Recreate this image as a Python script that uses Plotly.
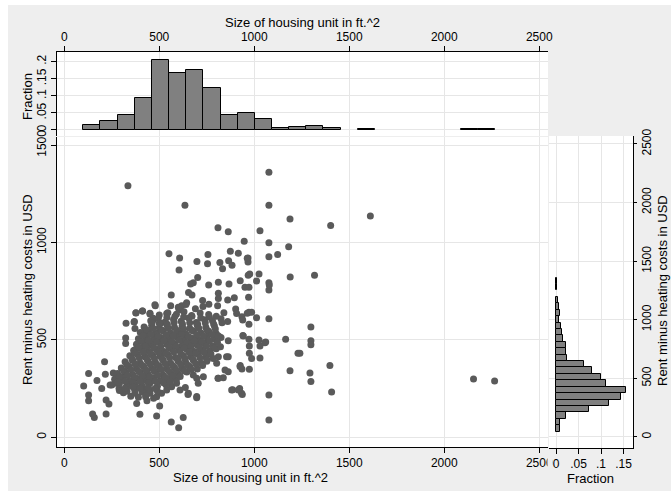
import plotly.graph_objects as go

# ---------------- data ----------------
size_sqft = [
    335, 1077, 635, 1077, 1188, 1402, 1611, 809, 863, 1030, 947, 1077, 1181, 551, 607, 756, 874, 916,
    967, 967, 1077, 1123, 963, 698, 754, 819, 865, 883, 833, 604, 976, 968, 1025, 1189, 1317, 702,
    679, 760, 811, 867, 926, 951, 972, 1012, 1077, 1077, 1079, 665, 654, 672, 563, 811, 811, 860,
    895, 970, 728, 761, 807, 479, 644, 618, 604, 539, 377, 412, 451, 467, 325, 367, 372, 507, 902,
    907, 935, 972, 986, 1012, 1077, 972, 939, 963, 323, 323, 430, 374, 409, 1298, 1298, 1298, 1165,
    1060, 1025, 1030, 1056, 972, 974, 1230, 974, 986, 1030, 940, 942, 863, 863, 811, 1188, 1293,
    1298, 1398, 1407, 1077, 1077, 974, 926, 935, 925, 863, 837, 809, 886, 923, 937, 933, 1240, 2154,
    2265,
    212, 128, 172, 216, 258, 305, 102, 128, 128, 220, 235, 149, 158, 220, 381, 398, 486, 502, 563,
    602, 626, 651, 697, 637, 435, 428, 881, 916, 846, 802, 854, 811, 653, 697,
    197, 241, 267, 288, 311, 328, 346, 372, 398, 425, 451, 486, 512, 539, 565, 591, 609, 697, 732,
    679, 705, 477, 377, 411, 451, 468, 369, 442, 486, 433, 411, 372,
    560, 600, 640, 690, 730,
    500, 545, 590, 630, 670, 715, 760, 800, 840,
    455, 495, 530, 575, 615, 655, 695, 740, 780, 825, 860,
    420, 460, 500, 540, 580, 620, 660, 700, 745, 790,
    400, 440, 480, 520, 560, 600, 640, 680, 720, 760, 800,
    390, 430, 470, 510, 550, 590, 630, 670, 710, 750, 790, 825,
    380, 420, 460, 500, 540, 580, 620, 660, 700, 740, 780,
    365, 405, 445, 485, 525, 565, 605, 645, 685, 725, 765, 800,
    345, 385, 425, 465, 505, 545, 585, 625, 665, 705, 745,
    320, 360, 400, 440, 480, 520, 560, 600, 640, 680, 720, 750,
    300, 340, 380, 420, 460, 500, 540, 580, 620, 660, 700,
    280, 320, 360, 400, 440, 480, 520, 560, 600, 645,
    265, 305, 345, 385, 425, 465, 505, 545, 590,
    250, 290, 330, 370, 410, 450, 490, 535,
    290, 330, 370, 410, 450, 490,
    350, 390, 430, 470,
    540, 582, 628, 672, 718, 764,
    462, 500, 542, 578, 622, 660, 702, 742, 786, 830,
    432, 468, 512, 548, 592, 628, 672, 708, 752, 795,
    414, 457, 493, 537, 574, 617, 653, 697, 733, 777, 812,
    406, 444, 486, 524, 566, 604, 646, 684, 726, 764, 806,
    392, 428, 472, 508, 552, 588, 632, 668, 712, 748, 792, 822,
    374, 416, 454, 496, 534, 576, 614, 656, 694, 736, 772,
    356, 394, 437, 474, 517, 554, 597, 634, 677, 714, 752, 784,
    330, 372, 410, 452, 490, 532, 570, 612, 650, 692, 728,
    312, 350, 392, 430, 472, 510, 552, 590, 632, 668,
    290, 332, 370, 412, 450, 492, 530, 572, 610,
    282, 320, 362, 400, 442, 480, 522, 558,
    320, 362, 400, 442, 478,
]
rent_usd = [
    1292, 1361, 1191, 1191, 1121, 1087, 1136, 1076, 1056, 1061, 1006, 999, 979, 943, 921, 938, 955, 945,
    921, 900, 927, 938, 919, 903, 891, 897, 907, 883, 866, 859, 838, 832, 838, 823, 832, 821,
    794, 782, 796, 787, 804, 770, 770, 802, 794, 756, 782, 787, 743, 731, 731, 739, 713, 705,
    717, 719, 702, 683, 676, 676, 691, 676, 653, 636, 638, 648, 633, 602, 585, 592, 559, 585, 659,
    636, 619, 642, 642, 614, 609, 580, 602, 637, 510, 481, 537, 448, 455, 566, 496, 475, 503,
    489, 500, 469, 486, 503, 469, 431, 431, 404, 407, 523, 520, 496, 414, 414, 342, 330,
    287, 369, 232, 217, 89, 349, 369, 350, 363, 337, 306, 303, 244, 250, 220, 226, 431, 299,
    289,
    388, 327, 291, 323, 330, 311, 263, 217, 188, 191, 171, 119, 102, 119, 174, 118, 109, 160, 78,
    49, 102, 220, 203, 256, 188, 208, 243, 243, 346, 380, 414, 303, 226, 209,
    251, 268, 277, 251, 229, 260, 277, 226, 256, 243, 226, 208, 226, 243, 260, 277, 243, 303, 311,
    320, 277, 680, 640, 649, 637, 611, 594, 534, 534, 474, 457, 448,
    675, 668, 682, 660, 672,
    628, 640, 632, 645, 625, 638, 630, 622, 640,
    598, 610, 592, 605, 596, 612, 590, 604, 598, 608, 595,
    566, 575, 562, 578, 565, 572, 560, 575, 565, 572,
    538, 545, 530, 548, 536, 542, 530, 546, 535, 544, 532,
    506, 515, 500, 512, 504, 516, 498, 510, 502, 515, 505, 512,
    478, 485, 472, 488, 476, 482, 470, 486, 474, 483, 470,
    446, 455, 442, 452, 440, 455, 445, 452, 440, 450, 442, 455,
    418, 425, 412, 422, 415, 425, 410, 420, 414, 426, 412,
    388, 395, 382, 392, 385, 396, 380, 390, 384, 394, 380, 390,
    356, 365, 352, 362, 355, 366, 350, 360, 354, 364, 350,
    328, 336, 322, 332, 325, 338, 320, 330, 326, 335,
    298, 305, 292, 302, 295, 306, 290, 300, 296,
    268, 275, 262, 272, 265, 276, 262, 270,
    240, 236, 245, 232, 242, 238,
    210, 205, 215, 200,
    615, 620, 618, 622, 612, 618,
    588, 585, 580, 590, 582, 588, 580, 588, 582, 588,
    552, 558, 548, 560, 550, 556, 548, 560, 550, 556,
    522, 528, 518, 526, 520, 528, 518, 526, 520, 528, 520,
    492, 498, 488, 496, 490, 498, 486, 494, 488, 496, 488,
    462, 468, 458, 466, 460, 468, 458, 466, 460, 468, 458, 465,
    432, 438, 428, 436, 430, 438, 428, 436, 430, 438, 428,
    402, 408, 398, 406, 400, 408, 398, 406, 400, 408, 398, 405,
    372, 378, 368, 376, 370, 378, 368, 376, 370, 378, 368,
    342, 348, 338, 346, 340, 348, 338, 346, 340, 348,
    312, 318, 308, 316, 310, 318, 308, 316, 312,
    282, 288, 280, 286, 280, 288, 280, 286,
    252, 258, 250, 256, 250,
]

# histogram of size (24 bins)
size_bin_start = 100
size_bin_width = 90.3
size_fraction = [0.0137, 0.0254, 0.0429, 0.0946, 0.204, 0.168, 0.176, 0.123,
                 0.045, 0.0497, 0.031, 0.005, 0.008, 0.012, 0.006, 0.0,
                 0.0017, 0.0, 0.0, 0.0, 0.0, 0.0, 0.0017, 0.0017]

# histogram of rent (24 bins)
rent_bin_start = 45
rent_bin_width = 54.8
rent_fraction = [0.0081, 0.0096, 0.0215, 0.074, 0.118, 0.144, 0.155, 0.110,
                 0.099, 0.081, 0.062, 0.024, 0.022, 0.023, 0.016, 0.014,
                 0.010, 0.0067, 0.008, 0.006, 0.0044, 0.0, 0.0017, 0.0017]

size_ticks = [0, 500, 1000, 1500, 2000, 2500]
rent_ticks_main = [0, 500, 1000, 1500]
rent_ticks_hist = [0, 500, 1000, 1500, 2000, 2500]
frac_ticks_top = [0, 0.05, 0.1, 0.15, 0.2]
frac_labels_top = ["0", ".05", ".1", ".15", ".2"]
frac_ticks_right = [0, 0.05, 0.1, 0.15]
frac_labels_right = ["0", ".05", ".1", ".15"]

x_title = "Size of housing unit in ft.^2"
y_title = "Rent minus heating costs in USD"
frac_title = "Fraction"

# ---------------- figure ----------------
W, H = 671, 491
BG = "#eeeeee"
GRID = "#e6e6e6"
FONT = "Liberation Sans, Arial, sans-serif"

size_bins = [(size_bin_start + size_bin_width * (i + 0.5), f)
             for i, f in enumerate(size_fraction) if f > 0]
rent_bins = [(rent_bin_start + rent_bin_width * (i + 0.5), f)
             for i, f in enumerate(rent_fraction) if f > 0]

fig = go.Figure()
fig.add_trace(go.Scatter(
    x=size_sqft, y=rent_usd, mode="markers", xaxis="x", yaxis="y",
    marker=dict(size=7, color="#5a5a5a", line=dict(width=0)), hoverinfo="skip"))
fig.add_trace(go.Bar(
    x=[c for c, f in size_bins], y=[f for c, f in size_bins], width=size_bin_width,
    xaxis="x2", yaxis="y2",
    marker=dict(color="#808080", line=dict(color="#000000", width=1)), hoverinfo="skip"))
fig.add_trace(go.Bar(
    y=[c for c, f in rent_bins], x=[f for c, f in rent_bins], width=rent_bin_width,
    orientation="h", xaxis="x3", yaxis="y3",
    marker=dict(color="#808080", line=dict(color="#000000", width=1)), hoverinfo="skip"))


def px_x(p):
    return p / W


def px_y(p):
    return (H - p) / H


common = dict(showline=True, linecolor="#000000", linewidth=1, ticks="outside",
              tickcolor="#000000", showgrid=True, gridcolor=GRID, gridwidth=1, zeroline=False,
              tickfont=dict(size=12, color="#000000", family=FONT), automargin=False)


def title_note(text, x, y, angle=0):
    return dict(text=text, xref="paper", yref="paper", x=px_x(x), y=px_y(y),
                xanchor="center", yanchor="middle", showarrow=False, textangle=angle,
                font=dict(size=13, color="#000000", family=FONT))


fig.update_layout(
    width=W, height=H, margin=dict(l=0, r=0, t=0, b=0),
    paper_bgcolor=BG, plot_bgcolor="#ffffff", showlegend=False, bargap=0,
    font=dict(family=FONT, size=12, color="#000000"),
    xaxis=dict(domain=[px_x(57), px_x(548)], anchor="y", range=[-38.4, 2546],
               tickvals=size_ticks, ticklen=5, **common),
    yaxis=dict(domain=[px_y(447), px_y(137)], anchor="x", range=[-50, 1542],
               tickvals=rent_ticks_main, tickangle=-90, ticklen=5, **common),
    xaxis2=dict(domain=[px_x(57), px_x(548)], anchor="y2", side="top", range=[-38.4, 2546],
                tickvals=size_ticks, ticklen=5, **common),
    yaxis2=dict(domain=[px_y(136), px_y(52)], anchor="x2", range=[-0.0176, 0.228],
                tickvals=frac_ticks_top, ticktext=frac_labels_top, tickangle=-90, ticklen=5,
                **common),
    xaxis3=dict(domain=[px_x(549), px_x(633)], anchor="y3", range=[-0.0156, 0.171],
                tickvals=frac_ticks_right, ticktext=frac_labels_right, ticklen=5, **common),
    yaxis3=dict(domain=[px_y(448), px_y(136)], anchor="x3", side="right", range=[-94, 2568],
                tickvals=rent_ticks_hist, tickangle=-90, ticklen=3, **common),
    annotations=[
        title_note(x_title, 302.5, 23),
        title_note(x_title, 250, 477),
        title_note(y_title, 27, 290, -90),
        title_note(frac_title, 27, 97, -90),
        title_note(y_title, 662, 291, -90),
        title_note(frac_title, 590, 478),
    ],
    shapes=[
        dict(type="rect", xref="paper", yref="paper", x0=0, x1=px_x(8), y0=0, y1=1,
             fillcolor="#ffffff", line=dict(width=0), layer="below"),
        dict(type="rect", xref="paper", yref="paper", x0=0, x1=1, y0=px_y(5), y1=1,
             fillcolor="#ffffff", line=dict(width=0), layer="below"),
        dict(type="rect", xref="paper", yref="paper", x0=px_x(547.5), x1=px_x(552.5),
             y0=px_y(472), y1=px_y(451), fillcolor=BG, line=dict(width=0), layer="above"),
    ],
)

fig.write_html("out.html")
